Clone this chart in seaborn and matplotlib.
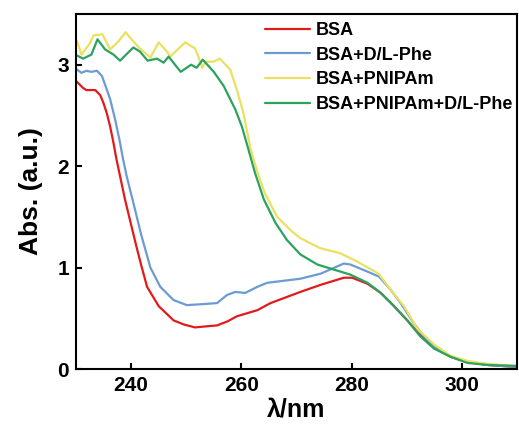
import pandas as pd
import numpy as np
import matplotlib
matplotlib.use("Agg")
import matplotlib.pyplot as plt
import seaborn as sns

# Series labels and colours
labels = ["BSA", "BSA+D/L-Phe", "BSA+PNIPAm", "BSA+PNIPAm+D/L-Phe"]
colors = ["#E31A1C", "#6B9BD2", "#EAE160", "#2CA25F"]

# BSA
wl_bsa = [230.0, 231.3, 231.9, 233.5, 234.4, 235.0, 235.6, 236.2, 236.8, 237.3, 238.0, 238.9,
          240.1, 241.0, 241.9, 242.9, 245.0, 247.7, 249.5, 251.6, 253.5, 255.6, 257.5, 259.2,
          262.9, 265.3, 270.7, 274.4, 278.6, 280.1, 282.9, 285.3, 287.7, 290.1, 292.5, 295.0,
          298.0, 301.0, 304.7, 310.0]
abs_bsa = [2.84, 2.77, 2.75, 2.75, 2.70, 2.62, 2.52, 2.39, 2.23, 2.08, 1.90, 1.67,
           1.40, 1.20, 1.01, 0.81, 0.62, 0.48, 0.44, 0.41, 0.42, 0.43, 0.47, 0.52,
           0.58, 0.65, 0.76, 0.83, 0.90, 0.90, 0.84, 0.75, 0.62, 0.48, 0.33, 0.21,
           0.12, 0.07, 0.04, 0.02]

# BSA+D/L-Phe
wl_phe = [230.0, 231.0, 231.9, 232.8, 233.8, 234.7, 235.3, 236.2, 237.1, 238.0, 238.5, 239.2,
          240.4, 241.9, 243.5, 245.3, 247.7, 250.1, 253.1, 255.6, 257.4, 258.9, 260.7, 262.9,
          264.7, 270.7, 274.4, 278.6, 279.8, 282.9, 285.0, 287.1, 288.9, 291.3, 293.0, 295.0,
          298.0, 301.0, 304.7, 310.0]
abs_phe = [2.96, 2.92, 2.94, 2.93, 2.94, 2.89, 2.80, 2.66, 2.46, 2.23, 2.08, 1.90,
           1.64, 1.31, 1.00, 0.81, 0.68, 0.63, 0.64, 0.65, 0.73, 0.76, 0.75, 0.81,
           0.85, 0.89, 0.94, 1.04, 1.03, 0.96, 0.91, 0.78, 0.65, 0.45, 0.33, 0.22,
           0.12, 0.07, 0.04, 0.02]

# BSA+PNIPAm
wl_pni = [230.2, 231.0, 232.5, 233.2, 234.8, 236.2, 237.7, 239.0, 240.4, 241.6, 243.5, 245.0,
          246.5, 247.1, 249.8, 251.6, 252.2, 252.9, 253.5, 255.0, 256.1, 258.0, 259.2, 260.4,
          261.6, 262.8, 264.3, 266.5, 268.9, 270.7, 272.5, 274.4, 278.0, 281.0, 284.9, 287.1,
          289.5, 291.9, 295.0, 298.0, 301.0, 304.7, 310.0]
abs_pni = [3.23, 3.10, 3.21, 3.29, 3.30, 3.15, 3.23, 3.32, 3.23, 3.16, 3.07, 3.22,
           3.13, 3.08, 3.22, 3.16, 3.08, 2.97, 3.03, 3.03, 3.06, 2.95, 2.75, 2.52,
           2.19, 1.96, 1.73, 1.50, 1.37, 1.29, 1.24, 1.19, 1.14, 1.06, 0.94, 0.78,
           0.62, 0.40, 0.24, 0.13, 0.08, 0.05, 0.03]

# BSA+PNIPAm+D/L-Phe
wl_mix = [230.2, 231.3, 232.8, 233.9, 235.3, 236.8, 238.0, 240.4, 241.6, 243.0, 244.7, 245.9,
          246.8, 249.0, 250.9, 251.9, 253.0, 255.0, 256.8, 258.9, 260.1, 261.0, 262.5, 264.1,
          266.2, 268.3, 270.7, 273.8, 276.8, 279.8, 282.9, 285.3, 287.7, 290.1, 292.5, 295.0,
          298.0, 301.0, 304.7, 310.0]
abs_mix = [3.09, 3.06, 3.10, 3.25, 3.15, 3.10, 3.04, 3.17, 3.13, 3.04, 3.06, 3.02,
           3.08, 2.93, 3.00, 2.97, 3.05, 2.93, 2.79, 2.56, 2.39, 2.22, 1.93, 1.67,
           1.44, 1.27, 1.13, 1.03, 0.98, 0.93, 0.85, 0.75, 0.62, 0.48, 0.32, 0.20,
           0.12, 0.06, 0.04, 0.03]

x_ticks = [240, 260, 280, 300]
y_ticks = [0, 1, 2, 3]

# Build long-form table
frames = []
for lab, wl, ab in zip(labels, [wl_bsa, wl_phe, wl_pni, wl_mix],
                       [abs_bsa, abs_phe, abs_pni, abs_mix]):
    frames.append(pd.DataFrame({"wl": wl, "abs": ab, "sample": lab}))
df = pd.concat(frames, ignore_index=True)

sns.set_style("ticks")
plt.rcParams['font.family'] = ['Liberation Sans', 'DejaVu Sans']
plt.rcParams['font.weight'] = 'bold'
plt.rcParams['text.color'] = 'black'
plt.rcParams['axes.labelcolor'] = 'black'
plt.rcParams['xtick.color'] = 'black'
plt.rcParams['ytick.color'] = 'black'

fig = plt.figure(figsize=(5.19, 4.32), dpi=100)
ax = fig.add_axes([0.1464, 0.1458, 0.8496, 0.8218])

sns.lineplot(data=df, x="wl", y="abs", hue="sample", hue_order=labels,
             palette=colors, estimator=None, linewidth=1.6, ax=ax)

ax.set_xlim(230, 310)
ax.set_ylim(0, 3.5)
ax.set_xticks(x_ticks)
ax.set_yticks(y_ticks)
ax.tick_params(direction='in', length=4.5, width=1.5, labelsize=15, pad=5)
for lbl in ax.get_xticklabels() + ax.get_yticklabels():
    lbl.set_fontweight('bold')
for sp in ax.spines.values():
    sp.set_linewidth(1.5)
    sp.set_color('black')

ax.set_xlabel("λ/nm", fontsize=18, fontweight='bold', labelpad=2)
ax.set_ylabel("Abs. (a.u.)", fontsize=19, fontweight='bold', labelpad=10)

leg = ax.legend(loc='upper left', bbox_to_anchor=(0.41, 1.0), frameon=False,
                fontsize=13, handlelength=2.5, handletextpad=0.3,
                labelspacing=0.42, borderaxespad=0.15, borderpad=0.3)
for t in leg.get_texts():
    t.set_fontweight('bold')
for h in leg.get_lines():
    h.set_linewidth(1.6)

fig.savefig("out.png", dpi=100)
